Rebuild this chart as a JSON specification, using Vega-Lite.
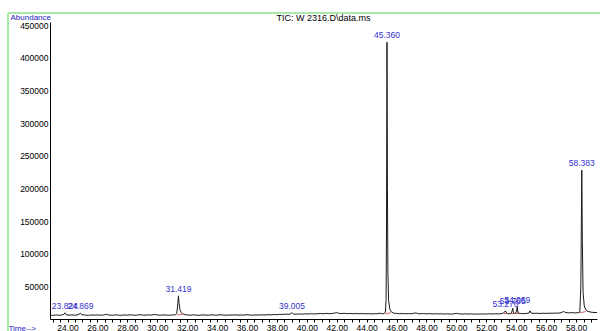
{
  "$schema": "https://vega.github.io/schema/vega-lite/v6.json",
  "width": 547,
  "height": 297,
  "autosize": {"type": "none"},
  "padding": {"left": 50, "top": 22, "right": 3, "bottom": 12},
  "background": "white",
  "title": {"text": "TIC: W 2316.D\\data.ms", "fontSize": 9, "fontWeight": "normal", "color": "#000000", "font": "Liberation Sans", "offset": -11, "anchor": "middle"},
  "config": {"view": {"stroke": null}, "font": "Liberation Sans"},
  "resolve": {"axis": {"x": "independent", "y": "independent"}},
  "datasets": {
    "tic": [
      {"t": 22.85, "a": 6000}, {"t": 23.0, "a": 5500}, {"t": 23.2, "a": 6200}, {"t": 23.4, "a": 5800}, {"t": 23.6, "a": 6100}, {"t": 23.75, "a": 7000}, {"t": 23.824, "a": 9500}, {"t": 23.9, "a": 6500},
      {"t": 24.1, "a": 5900}, {"t": 24.3, "a": 6300}, {"t": 24.5, "a": 5700}, {"t": 24.7, "a": 6400}, {"t": 24.869, "a": 9000}, {"t": 24.95, "a": 6600},
      {"t": 25.2, "a": 6000}, {"t": 25.4, "a": 5600}, {"t": 25.6, "a": 6200}, {"t": 25.8, "a": 5900}, {"t": 26.0, "a": 6300}, {"t": 26.2, "a": 5800}, {"t": 26.4, "a": 6100}, {"t": 26.6, "a": 7200}, {"t": 26.8, "a": 6000},
      {"t": 27.0, "a": 5700}, {"t": 27.2, "a": 6300}, {"t": 27.4, "a": 6000}, {"t": 27.6, "a": 5600}, {"t": 27.8, "a": 6200}, {"t": 28.0, "a": 5900}, {"t": 28.2, "a": 6400}, {"t": 28.4, "a": 6000}, {"t": 28.6, "a": 5700}, {"t": 28.8, "a": 6600},
      {"t": 29.0, "a": 6100}, {"t": 29.2, "a": 5800}, {"t": 29.4, "a": 6300}, {"t": 29.6, "a": 6000}, {"t": 29.8, "a": 7000}, {"t": 30.0, "a": 6200}, {"t": 30.2, "a": 5800}, {"t": 30.4, "a": 6300}, {"t": 30.6, "a": 6000}, {"t": 30.8, "a": 5700},
      {"t": 31.0, "a": 6200}, {"t": 31.2, "a": 6400}, {"t": 31.3, "a": 8000}, {"t": 31.36, "a": 20000}, {"t": 31.419, "a": 35500}, {"t": 31.46, "a": 24000}, {"t": 31.52, "a": 14000}, {"t": 31.6, "a": 10000}, {"t": 31.7, "a": 8000}, {"t": 31.85, "a": 6800},
      {"t": 32.0, "a": 6200}, {"t": 32.2, "a": 5800}, {"t": 32.4, "a": 6400}, {"t": 32.6, "a": 6000}, {"t": 32.8, "a": 5600}, {"t": 33.0, "a": 6300}, {"t": 33.2, "a": 6100}, {"t": 33.4, "a": 5700}, {"t": 33.6, "a": 6400}, {"t": 33.8, "a": 6000},
      {"t": 34.0, "a": 5800}, {"t": 34.2, "a": 6500}, {"t": 34.4, "a": 6100}, {"t": 34.6, "a": 5700}, {"t": 34.8, "a": 6200}, {"t": 35.0, "a": 6000}, {"t": 35.2, "a": 6400}, {"t": 35.4, "a": 5900}, {"t": 35.6, "a": 6200}, {"t": 35.8, "a": 6000},
      {"t": 36.0, "a": 6600}, {"t": 36.2, "a": 6100}, {"t": 36.4, "a": 5800}, {"t": 36.6, "a": 6300}, {"t": 36.8, "a": 6000}, {"t": 37.0, "a": 6400}, {"t": 37.2, "a": 6100}, {"t": 37.4, "a": 6700}, {"t": 37.6, "a": 6300}, {"t": 37.8, "a": 6900},
      {"t": 38.0, "a": 6500}, {"t": 38.2, "a": 7300}, {"t": 38.4, "a": 7000}, {"t": 38.6, "a": 7500}, {"t": 38.8, "a": 7200}, {"t": 38.9, "a": 7800}, {"t": 39.005, "a": 9800}, {"t": 39.1, "a": 7600}, {"t": 39.3, "a": 7300}, {"t": 39.5, "a": 7800}, {"t": 39.7, "a": 7400}, {"t": 39.9, "a": 7900},
      {"t": 40.1, "a": 7600}, {"t": 40.3, "a": 8100}, {"t": 40.5, "a": 7700}, {"t": 40.7, "a": 8000}, {"t": 40.9, "a": 8400}, {"t": 41.1, "a": 8000}, {"t": 41.3, "a": 8600}, {"t": 41.5, "a": 8200}, {"t": 41.7, "a": 8500}, {"t": 41.9, "a": 9200},
      {"t": 42.0, "a": 10000}, {"t": 42.1, "a": 8800}, {"t": 42.3, "a": 8300}, {"t": 42.5, "a": 8700}, {"t": 42.7, "a": 8200}, {"t": 42.9, "a": 8500}, {"t": 43.1, "a": 8100}, {"t": 43.3, "a": 8400}, {"t": 43.5, "a": 8000}, {"t": 43.7, "a": 8300}, {"t": 43.9, "a": 7900},
      {"t": 44.1, "a": 8200}, {"t": 44.3, "a": 7800}, {"t": 44.5, "a": 8100}, {"t": 44.7, "a": 7900}, {"t": 44.9, "a": 9000}, {"t": 45.0, "a": 8000}, {"t": 45.15, "a": 8300}, {"t": 45.25, "a": 10000}, {"t": 45.3, "a": 30000}, {"t": 45.33, "a": 150000}, {"t": 45.36, "a": 424000}, {"t": 45.39, "a": 200000}, {"t": 45.42, "a": 70000}, {"t": 45.47, "a": 28000}, {"t": 45.55, "a": 15000}, {"t": 45.65, "a": 11000}, {"t": 45.8, "a": 9000},
      {"t": 46.0, "a": 8500}, {"t": 46.2, "a": 8100}, {"t": 46.4, "a": 8400}, {"t": 46.6, "a": 8000}, {"t": 46.8, "a": 8300}, {"t": 47.0, "a": 8100}, {"t": 47.2, "a": 9000}, {"t": 47.3, "a": 9500}, {"t": 47.4, "a": 8300}, {"t": 47.6, "a": 8000}, {"t": 47.8, "a": 8400},
      {"t": 48.0, "a": 7900}, {"t": 48.2, "a": 8200}, {"t": 48.4, "a": 7800}, {"t": 48.6, "a": 8100}, {"t": 48.8, "a": 7700}, {"t": 49.0, "a": 8000}, {"t": 49.2, "a": 7600}, {"t": 49.4, "a": 7900}, {"t": 49.6, "a": 7500}, {"t": 49.8, "a": 7800},
      {"t": 50.0, "a": 8600}, {"t": 50.2, "a": 7900}, {"t": 50.4, "a": 7600}, {"t": 50.6, "a": 7900}, {"t": 50.8, "a": 7500}, {"t": 51.0, "a": 7800}, {"t": 51.2, "a": 7400}, {"t": 51.4, "a": 7700}, {"t": 51.6, "a": 7500}, {"t": 51.8, "a": 7800},
      {"t": 52.0, "a": 7600}, {"t": 52.2, "a": 7900}, {"t": 52.4, "a": 7700}, {"t": 52.6, "a": 8000}, {"t": 52.8, "a": 7800}, {"t": 53.0, "a": 8200}, {"t": 53.15, "a": 9000}, {"t": 53.276, "a": 12500}, {"t": 53.38, "a": 8500}, {"t": 53.5, "a": 8000}, {"t": 53.65, "a": 8300}, {"t": 53.72, "a": 12000}, {"t": 53.765, "a": 16500}, {"t": 53.82, "a": 9000}, {"t": 53.95, "a": 8500}, {"t": 54.02, "a": 12000}, {"t": 54.069, "a": 19000}, {"t": 54.12, "a": 9000},
      {"t": 54.3, "a": 8400}, {"t": 54.5, "a": 8200}, {"t": 54.7, "a": 8600}, {"t": 54.85, "a": 9000}, {"t": 54.93, "a": 12500}, {"t": 55.0, "a": 9000}, {"t": 55.2, "a": 8600}, {"t": 55.4, "a": 8900}, {"t": 55.6, "a": 8500}, {"t": 55.8, "a": 8800},
      {"t": 56.0, "a": 8600}, {"t": 56.2, "a": 9000}, {"t": 56.4, "a": 8700}, {"t": 56.6, "a": 9100}, {"t": 56.8, "a": 8900}, {"t": 57.0, "a": 9600}, {"t": 57.15, "a": 11500}, {"t": 57.3, "a": 10000}, {"t": 57.5, "a": 9400}, {"t": 57.7, "a": 9800}, {"t": 57.9, "a": 9300},
      {"t": 58.1, "a": 9600}, {"t": 58.25, "a": 10500}, {"t": 58.32, "a": 50000}, {"t": 58.383, "a": 228000}, {"t": 58.42, "a": 120000}, {"t": 58.47, "a": 40000}, {"t": 58.55, "a": 20000}, {"t": 58.65, "a": 14000}, {"t": 58.8, "a": 11500},
      {"t": 59.0, "a": 10500}, {"t": 59.2, "a": 10000}, {"t": 59.4, "a": 9800}
    ],
    "peaks": [
      {"t": 23.824, "a": 9500, "label": "23.824"},
      {"t": 24.869, "a": 9000, "label": "24.869"},
      {"t": 31.419, "a": 35500, "label": "31.419"},
      {"t": 39.005, "a": 9800, "label": "39.005"},
      {"t": 45.36, "a": 424000, "label": "45.360"},
      {"t": 53.276, "a": 12500, "label": "53.276"},
      {"t": 53.765, "a": 16500, "label": "53.765"},
      {"t": 54.069, "a": 19000, "label": "54.069"},
      {"t": 58.383, "a": 228000, "label": "58.383"}
    ],
    "baselines": [
      {"peak": "31.419", "t": 31.33, "a": 6000}, {"peak": "31.419", "t": 31.75, "a": 7800},
      {"peak": "45.360", "t": 45.27, "a": 8000}, {"peak": "45.360", "t": 45.62, "a": 9500},
      {"peak": "58.383", "t": 58.28, "a": 9500}, {"peak": "58.383", "t": 58.66, "a": 11500},
      {"peak": "53.276", "t": 53.18, "a": 8300}, {"peak": "53.276", "t": 53.4, "a": 8400},
      {"peak": "53.765", "t": 53.68, "a": 8200}, {"peak": "53.765", "t": 53.86, "a": 8600},
      {"peak": "54.069", "t": 53.98, "a": 8400}, {"peak": "54.069", "t": 54.16, "a": 8700}
    ]
  },
  "layer": [
    {
      "data": {"name": "tic"},
      "mark": {"type": "line", "color": "#1a1a1a", "strokeWidth": 1, "interpolate": "linear"},
      "encoding": {
        "x": {
          "field": "t", "type": "quantitative",
          "scale": {"domain": [22.83, 59.4], "nice": false, "zero": false},
          "axis": {
            "title": "Time-->", "titleColor": "#2222bb", "titleFontSize": 8, "titleFontWeight": "normal",
            "titleAlign": "left", "titleAnchor": "start", "titleX": -42, "titleY": 5, "titleBaseline": "top",
            "values": [23, 23.5, 24, 24.5, 25, 25.5, 26, 26.5, 27, 27.5, 28, 28.5, 29, 29.5, 30, 30.5, 31, 31.5, 32, 32.5, 33, 33.5, 34, 34.5, 35, 35.5, 36, 36.5, 37, 37.5, 38, 38.5, 39, 39.5, 40, 40.5, 41, 41.5, 42, 42.5, 43, 43.5, 44, 44.5, 45, 45.5, 46, 46.5, 47, 47.5, 48, 48.5, 49, 49.5, 50, 50.5, 51, 51.5, 52, 52.5, 53, 53.5, 54, 54.5, 55, 55.5, 56, 56.5, 57, 57.5, 58, 58.5, 59],
            "labelExpr": "datum.value % 2 == 0 ? format(datum.value, '.2f') : ''",
            "labelFontSize": 8.5, "labelColor": "#000000", "labelPadding": 1, "labelOverlap": false, "labelFlush": false,
            "tickColor": "#000000", "tickSize": 3, "domainColor": "#000000", "grid": false
          }
        },
        "y": {
          "field": "a", "type": "quantitative",
          "scale": {"domain": [0, 455000], "nice": false},
          "axis": {
            "title": "Abundance", "titleAngle": 0, "titleAlign": "left", "titleX": -40, "titleY": -3, "titleBaseline": "alphabetic",
            "titleColor": "#2222bb", "titleFontSize": 8, "titleFontWeight": "normal",
            "values": [50000, 100000, 150000, 200000, 250000, 300000, 350000, 400000, 450000],
            "format": "d", "labelFontSize": 8.5, "labelColor": "#000000", "ticks": false, "labelPadding": 2, "labelOverlap": false,
            "domainColor": "#000000", "grid": false
          }
        }
      }
    },
    {
      "data": {"name": "baselines"},
      "mark": {"type": "line", "color": "#e06060", "strokeWidth": 1},
      "encoding": {
        "x": {"field": "t", "type": "quantitative", "axis": null},
        "y": {"field": "a", "type": "quantitative", "axis": null},
        "detail": {"field": "peak"}
      }
    },
    {
      "data": {"name": "peaks"},
      "mark": {"type": "text", "color": "#3333cc", "fontSize": 8.5, "baseline": "bottom", "align": "center", "dy": -2},
      "encoding": {
        "x": {"field": "t", "type": "quantitative", "axis": null},
        "y": {"field": "a", "type": "quantitative", "axis": null},
        "text": {"field": "label"}
      }
    },
    {
      "data": {"name": "peaks"},
      "mark": {"type": "rule", "color": "#a8e8a8", "strokeWidth": 1},
      "encoding": {
        "x": {"datum": 20.02, "type": "quantitative", "axis": null},
        "y": {"datum": -30000, "type": "quantitative", "axis": null},
        "y2": {"datum": 468800}
      }
    },
    {
      "data": {"name": "peaks"},
      "mark": {"type": "rule", "color": "#a8e8a8", "strokeWidth": 1},
      "encoding": {
        "x": {"datum": 20.02, "type": "quantitative", "axis": null},
        "x2": {"datum": 59.6},
        "y": {"datum": 468800, "type": "quantitative", "axis": null}
      }
    }
  ]
}
